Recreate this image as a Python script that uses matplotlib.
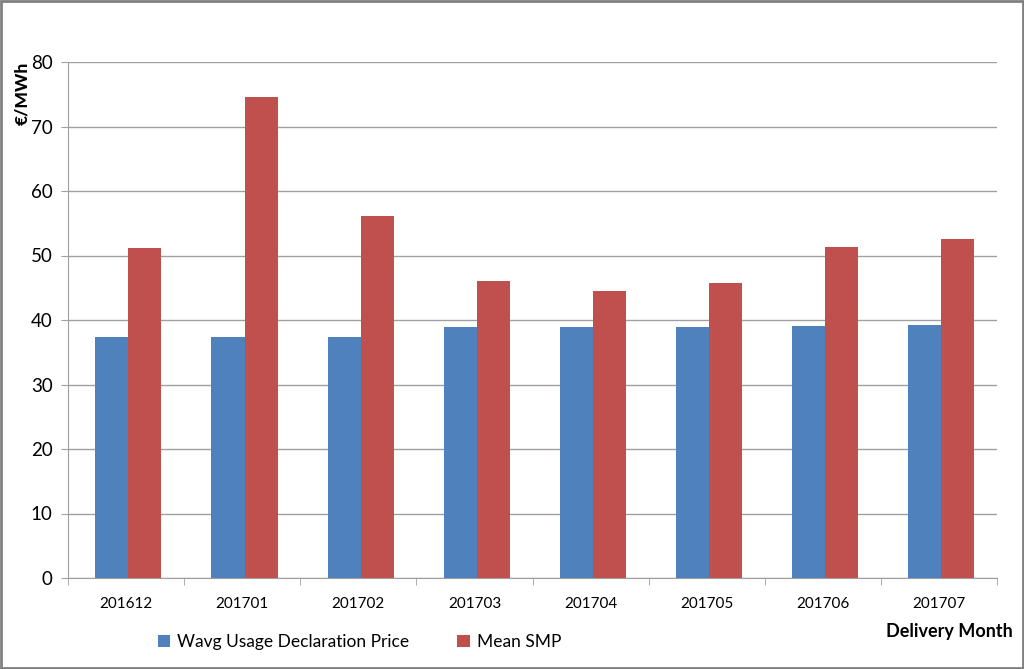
import matplotlib
matplotlib.use('Agg')
import matplotlib.pyplot as plt
import numpy as np
from matplotlib.patches import Rectangle

plt.rcParams['font.family'] = ['Lato', 'DejaVu Sans']

months = ['201612', '201701', '201702', '201703', '201704', '201705', '201706', '201707']
wavg_price = [37.3, 37.3, 37.3, 38.9, 38.9, 38.9, 39.0, 39.2]
mean_smp = [51.1, 74.5, 56.2, 46.1, 44.5, 45.7, 51.3, 52.5]

blue = '#4f81bd'
red = '#c0504d'
grey = '#a0a0a0'

fig = plt.figure(figsize=(10.24, 6.69), dpi=100)
ax = fig.add_axes([68 / 1024, 1 - 578 / 669, (997 - 68) / 1024, (578 - 62) / 669])

x = np.arange(len(months))
w = 0.285
off = 0.02
ax.bar(x - w / 2 + off, wavg_price, w, color=blue, label='Wavg Usage Declaration Price', zorder=3)
ax.bar(x + w / 2 + off, mean_smp, w, color=red, label='Mean SMP', zorder=3)

ax.set_xlim(-0.5, len(months) - 0.5)
ax.set_ylim(0, 80)
ax.set_yticks(range(0, 81, 10))
ax.yaxis.grid(True, color=grey, linewidth=1, zorder=0)
ax.set_xticks(x)
ax.set_xticklabels(months, fontsize=11)
ax.set_xticks(np.arange(-0.5, len(months)), minor=True)
ax.tick_params(axis='x', which='major', length=0, pad=14)
ax.tick_params(axis='x', which='minor', length=5, color=grey, direction='out')
ax.tick_params(axis='y', length=5, color=grey, direction='out', labelsize=13.5, pad=6)

for s in ['top', 'right']:
    ax.spines[s].set_visible(False)
for s in ['left', 'bottom']:
    ax.spines[s].set_color(grey)

ax.set_ylabel('€/MWh', fontsize=12.5, fontweight='black')
ax.yaxis.set_label_coords(-54 / 929, 1.0)
ax.yaxis.label.set_va('top')
ax.yaxis.label.set_ha('right')

fig.text(1013 / 1024, 1 - 632 / 669, 'Delivery Month', fontsize=13, fontweight='bold',
         ha='right', va='center')

ax.legend(loc='center left', bbox_to_anchor=(142 / 1024, 1 - 642 / 669), bbox_transform=fig.transFigure,
          ncol=2, frameon=False, fontsize=12.5, handlelength=0.7, handleheight=0.7,
          handletextpad=0.4, columnspacing=2.8)

fig.patches.append(Rectangle((0.001, 0.001), 0.998, 0.998, transform=fig.transFigure,
                             fill=False, edgecolor='#808080', linewidth=2))

fig.savefig('out.png', dpi=100)
